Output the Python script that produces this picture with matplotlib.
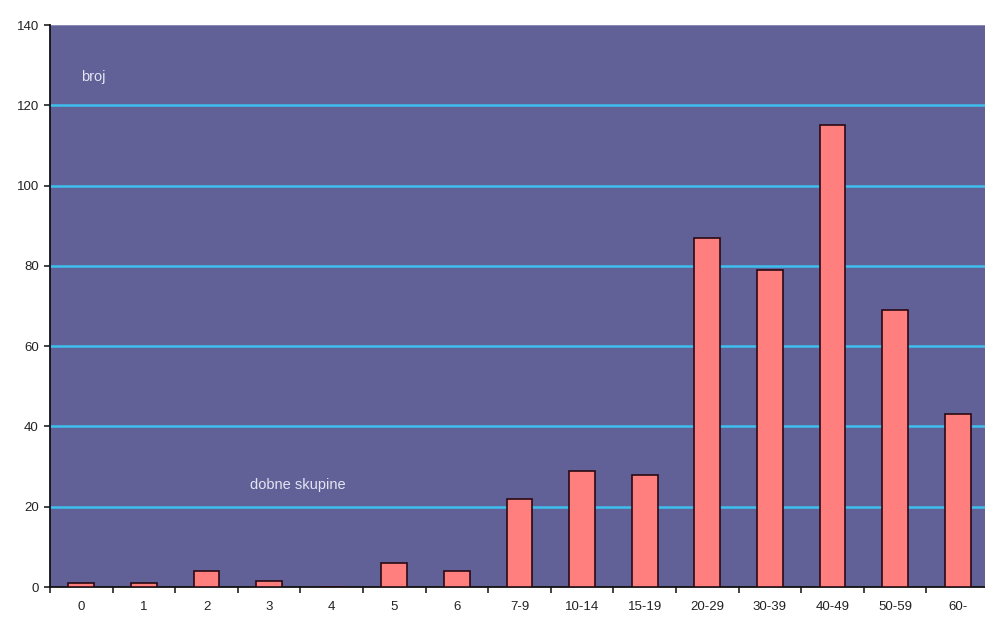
import matplotlib
matplotlib.use("Agg")
import matplotlib.pyplot as plt
import numpy as np

# Age groups and counts
categories = ["0", "1", "2", "3", "4", "5", "6", "7-9", "10-14", "15-19",
              "20-29", "30-39", "40-49", "50-59", "60-"]
counts = [1, 1, 4, 1.5, 0, 6, 4, 22, 29, 28, 87, 79, 115, 69, 43]
y_ticks = [0, 20, 40, 60, 80, 100, 120, 140]

plt.rcParams['font.family'] = ['Liberation Sans', 'DejaVu Sans']

W, H = 985, 619
fig = plt.figure(figsize=(W / 100, H / 100), dpi=100)
fig.patch.set_facecolor('white')
ax = fig.add_axes([50 / W, 32 / H, 939 / W, 562 / H])
ax.set_facecolor('#616198')

x = np.arange(len(categories))
ax.bar(x, counts, width=0.41, color='#ff7f7f', edgecolor='#2a0a14',
       linewidth=1.2, zorder=3)

ax.set_xlim(-0.5, len(categories) - 0.5)
ax.set_ylim(0, 140)

ax.set_yticks(y_ticks)
# horizontal grid lines, skipping the top edge of the plot area
for v in y_ticks[1:-1]:
    ax.axhline(v, color='#3ec0ee', linewidth=1.8, zorder=1)
ax.axhline(y_ticks[-1], color='#8a8ab8', linewidth=1.5, zorder=1)

ax.set_xticks(x)
ax.set_xticklabels(categories)
ax.set_xticks(np.arange(-0.5, len(categories), 1.0), minor=True)
ax.tick_params(axis='x', which='major', length=0, pad=10, labelsize=9.5,
               labelcolor='#222222')
ax.tick_params(axis='x', which='minor', length=4, width=1.2, direction='out',
               color='#222222')
ax.tick_params(axis='y', length=4, width=1.2, direction='out', color='#222222',
               labelsize=9.5, labelcolor='#222222', pad=4)

for side in ('top', 'right'):
    ax.spines[side].set_visible(False)
for side in ('left', 'bottom'):
    ax.spines[side].set_color('#111111')
    ax.spines[side].set_linewidth(1.3)

ax.text(0.0, 127, "broj", color='#e4e4f4', fontsize=10.5, ha='left', va='center')
ax.text(2.7, 25.5, "dobne skupine", color='#e4e4f4', fontsize=10.5,
        ha='left', va='center')

fig.savefig("out.png", dpi=100)
